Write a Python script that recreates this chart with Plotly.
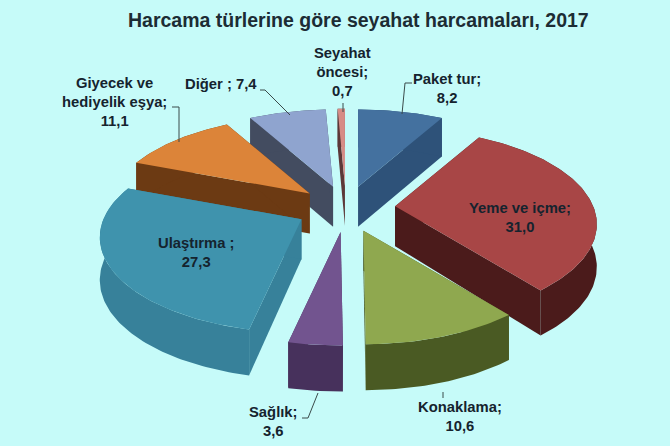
import numpy as np
import plotly.graph_objects as go

# --- Dane ---
kategorie = ["Paket tur", "Yeme ve içme", "Konaklama", "Sağlık", "Ulaştırma",
             "Giyecek ve hediyelik eşya", "Diğer", "Seyahat öncesi"]
wartosci = [8.2, 31.0, 10.6, 3.6, 27.3, 11.1, 7.4, 0.7]
etykiety = ["Paket tur;<br>8,2", "Yeme ve içme;<br>31,0", "Konaklama;<br>10,6",
            "Sağlık;<br>3,6", "Ulaştırma ;<br>27,3", "Giyecek ve<br>hediyelik eşya;<br>11,1",
            "Diğer ; 7,4", "Seyahat<br>öncesi;<br>0,7"]

# --- Wyglad ---
kolor_gora = ["#44719f", "#a84646", "#8fa84f", "#72548f", "#3f93ad", "#dc8439", "#8fa4cf", "#d68c86"]
kolor_bok = ["#2e5279", "#4b1b1b", "#4a5a23", "#47315c", "#37819a", "#6c3a13", "#434c60", "#5c3838"]
kolejnosc = [6, 7, 0, 5, 1, 3, 2, 4]  # od tylu do przodu
etykiety_xy = [(447, 88), (520, 217), (460, 416), (273, 421), (196, 252), (114, 102), (221, 84), (342, 72)]

TLO = "#c6fbf9"
CX, CY = 346, 208   # srodek kola
R, Q = 198, 92      # promienie elipsy
P = 0.19            # perspektywa
WYBUCH = 0.25       # wysuniecie kawalkow


def rzut(u, v):
    s = 1 / (1 - P * v)
    return R * u * s, Q * v * s


def wycinek(start, stop):
    # punkty luku dla katow liczonych od gory, zgodnie z zegarem
    kat = np.radians(np.linspace(start, stop, max(int(stop - start), 2) + 1))
    return rzut(np.sin(kat), -np.cos(kat))


fig = go.Figure()


def wielokat(x, y, kolor, nazwa):
    fig.add_trace(go.Scatter(x=x, y=y, mode="lines", fill="toself", fillcolor=kolor,
                             line=dict(width=0, color=kolor), name=nazwa,
                             hoverinfo="name", showlegend=False))


granice = np.cumsum([0] + wartosci) / sum(wartosci) * 360

for i in kolejnosc:
    a, b = granice[i], granice[i + 1]
    srodek = np.radians((a + b) / 2)
    dx, dy = rzut(WYBUCH * np.sin(srodek), -WYBUCH * np.cos(srodek))
    ox, oy = CX + dx, CY + dy

    rx, ry = wycinek(a, b)
    x = ox + rx
    y = oy + ry

    # glebokosc rosnie ku przodowi
    v = -np.cos(np.radians(np.linspace(a, b, len(x))))
    d_rim = 42 + 4 * v
    d_ap = 40

    # sciany boczne, potem luk, na koncu gora
    wielokat([ox, x[0], x[0], ox, ox], [oy, y[0], y[0] + d_rim[0], oy + d_ap, oy], kolor_bok[i], kategorie[i])
    wielokat([ox, x[-1], x[-1], ox, ox], [oy, y[-1], y[-1] + d_rim[-1], oy + d_ap, oy], kolor_bok[i], kategorie[i])
    wielokat(np.r_[x, x[::-1]], np.r_[y, (y + d_rim)[::-1]], kolor_bok[i], kategorie[i])
    wielokat(np.r_[ox, x, ox], np.r_[oy, y, oy], kolor_gora[i], kategorie[i])

# linie prowadzace do etykiet
linie = [
    ([412, 405, 402], [83, 83, 114]),
    ([260, 265, 290], [90, 90, 115]),
    ([172, 179, 179], [107, 107, 142]),
    ([343, 343], [112, 103]),
    ([443, 443], [392, 398]),
    ([302, 308, 318], [418, 418, 393]),
]
for lx, ly in linie:
    fig.add_trace(go.Scatter(x=lx, y=ly, mode="lines", line=dict(color="#3a4a4a", width=1),
                             hoverinfo="skip", showlegend=False))

for tekst, (tx, ty) in zip(etykiety, etykiety_xy):
    fig.add_annotation(x=tx, y=ty, text="<b>" + tekst.replace("<br>", "</b><br><b>") + "</b>",
                       showarrow=False, align="center",
                       font=dict(family="Liberation Sans", size=14.8, color="#15232e"))

fig.add_annotation(x=358, y=20, text="<b>Harcama türlerine göre seyahat harcamaları, 2017</b>",
                   showarrow=False, font=dict(family="Liberation Sans", size=19.5, color="#1c2c34"))

fig.update_xaxes(range=[0, 670], visible=False)
fig.update_yaxes(range=[446, 0], visible=False)
fig.update_layout(width=670, height=446, margin=dict(l=0, r=0, t=0, b=0),
                  paper_bgcolor=TLO, plot_bgcolor=TLO)

# bez marginesu strony i bez paska narzedzi
fig.write_html("out.html", config={"displayModeBar": False},
               post_script="document.body.style.margin='0';")
